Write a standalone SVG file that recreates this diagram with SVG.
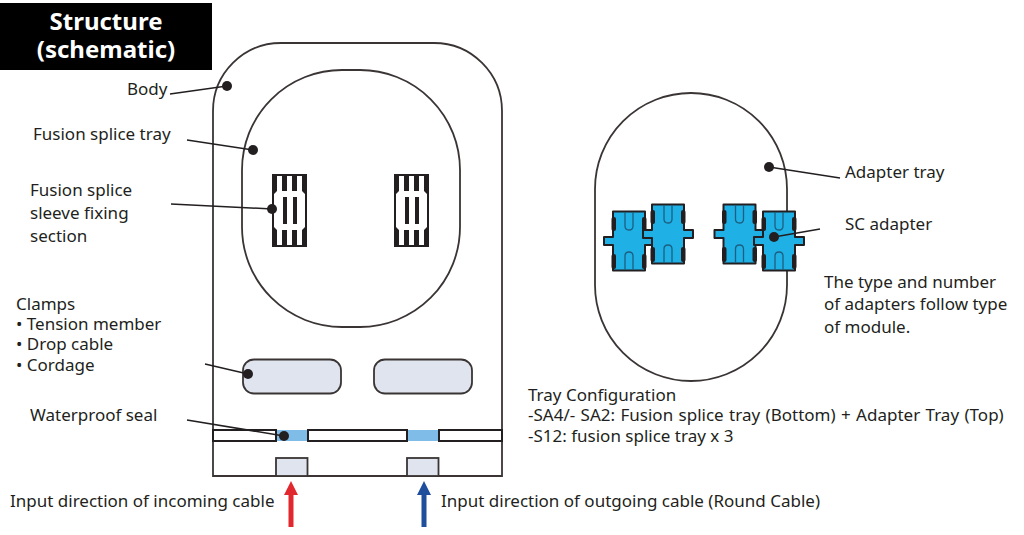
<svg xmlns="http://www.w3.org/2000/svg" width="1024" height="535" viewBox="0 0 1024 535">
<style>
text{font-family:"Noto Sans","Open Sans",sans-serif;font-size:17px;fill:#231f20}
.title{font-weight:700;font-size:24px;fill:#fff;text-anchor:middle}
.o{fill:none;stroke:#3a3534;stroke-width:1.8}
.w{fill:#fff;stroke:#231f20;stroke-width:2}
.g{fill:#dfe4ef;stroke:#3a3534;stroke-width:1.8}
.b{fill:#7fbce8}
.l{fill:none;stroke:#231f20;stroke-width:1.5}
.d{fill:#231f20}
.k{fill:#231f20}
.c{fill:#1fb0e6;stroke:#231f20;stroke-width:2;stroke-linejoin:round}
.s{fill:none;stroke:#1c5f80;stroke-width:1.3}
</style>
<defs>
<g id="fix">
<rect class="k" width="35" height="73"/>
<path fill="#fff" d="M2 20L5 17V2H10V17H15V2H20V17H25V2H30V17L33 20V53L30 56V71H25V56H20V71H15V56H10V71H5V56L2 53Z"/>
<rect class="k" x="11" y="23" width="4" height="27"/><rect class="k" x="21" y="23" width="4" height="27"/>
</g>
<g id="adapter">
<path class="c" d="M-16 -29.500H16V-4H25V4H16V29.500H-16V4H-25V-4H-16Z"/>
<path class="s" d="M-4 -29V-15Q-4 -11 0 -11Q4 -11 4 -15V-29M-4 29V15Q-4 11 0 11Q4 11 4 15V29"/>
<rect class="k" x="-17.500" y="-24" width="4.500" height="14" rx="2"/><rect class="k" x="13" y="-24" width="4.500" height="14" rx="2"/>
<rect class="k" x="-17.500" y="13" width="4.500" height="15" rx="2"/><rect class="k" x="13" y="13" width="4.500" height="15" rx="2"/>
</g>
</defs>
<rect width="1024" height="535" fill="#fff"/>
<g id="title"><rect x="0" y="3" width="212" height="67" fill="#000"/><text class="title"><tspan x="106" y="30">Structure</tspan><tspan x="106" y="58">(schematic)</tspan></text></g>
<g id="body"><path class="o" d="M213 476V111A68 68 0 0 1 281 43H434A68 68 0 0 1 502 111V476Z"/></g>
<g id="splice-tray"><rect class="o" x="242" y="70" width="218" height="257" rx="100" ry="100"/></g>
<g id="fixing-left"><use href="#fix" x="272" y="174"/></g>
<g id="fixing-right"><use href="#fix" x="394" y="174"/></g>
<g id="clamp-left"><rect class="g" x="243" y="359.500" width="98" height="34" rx="11"/></g>
<g id="clamp-right"><rect class="g" x="374" y="359.500" width="98" height="34" rx="11"/></g>
<g id="seal">
<rect class="b" x="276" y="430" width="32" height="11"/><rect class="b" x="407" y="430" width="32" height="11"/>
<rect class="w" x="213" y="430" width="63" height="11"/><rect class="w" x="308" y="430" width="99" height="11"/><rect class="w" x="439" y="430" width="63" height="11"/>
</g>
<g id="port-left"><rect class="g" x="276" y="458" width="31.500" height="18"/></g>
<g id="port-right"><rect class="g" x="407" y="458" width="31.500" height="18"/></g>
<g id="adapter-tray"><rect class="o" x="595" y="93" width="192" height="288" rx="96" ry="96"/></g>
<g id="adapter-1"><use href="#adapter" x="629" y="241"/></g>
<g id="adapter-2"><use href="#adapter" x="668" y="234"/></g>
<g id="adapter-3"><use href="#adapter" x="739.500" y="234"/></g>
<g id="adapter-4"><use href="#adapter" x="779" y="241"/></g>
<g id="connectors">
<path class="l" d="M170 94L227 86M187 140L253 150M171 204L272 209M205 364L248 374M187 420L284 436M769 167L840 178M774 237L820 229"/>
<circle class="d" cx="227" cy="86" r="5"/><circle class="d" cx="253" cy="150" r="5"/><circle class="d" cx="272" cy="209" r="5"/><circle class="d" cx="248" cy="374" r="5"/><circle class="d" cx="284" cy="436" r="5"/><circle class="d" cx="769" cy="167" r="5"/><circle class="d" cx="774" cy="237" r="5"/>
<path fill="#e0282e" d="M291 481L298 495H293.500V527H288.500V495H284Z"/>
<path fill="#1f4f9c" d="M424 481L431 495H426.500V527H421.500V495H417Z"/>
</g>
<g id="labels">
<text x="127" y="95">Body</text>
<text x="33" y="140">Fusion splice tray</text>
<text x="30" y="196">Fusion splice</text><text x="30" y="219">sleeve fixing</text><text x="30" y="242">section</text>
<text x="16" y="310">Clamps</text><text x="16" y="330">• Tension member</text><text x="16" y="350">• Drop cable</text><text x="16" y="371">• Cordage</text>
<text x="30" y="421">Waterproof seal</text>
<text x="10" y="507">Input direction of incoming cable</text>
<text x="441" y="507">Input direction of outgoing cable (Round Cable)</text>
<text x="845" y="178">Adapter tray</text>
<text x="845" y="230">SC adapter</text>
<text x="824" y="288">The type and number</text><text x="824" y="310">of adapters follow type</text><text x="824" y="333">of module.</text>
<text x="528" y="401">Tray Configuration</text>
<text x="528" y="421" word-spacing="1">-SA4/- SA2: Fusion splice tray (Bottom) + Adapter Tray (Top)</text>
<text x="528" y="442">-S12: fusion splice tray x 3</text>
</g>
</svg>
